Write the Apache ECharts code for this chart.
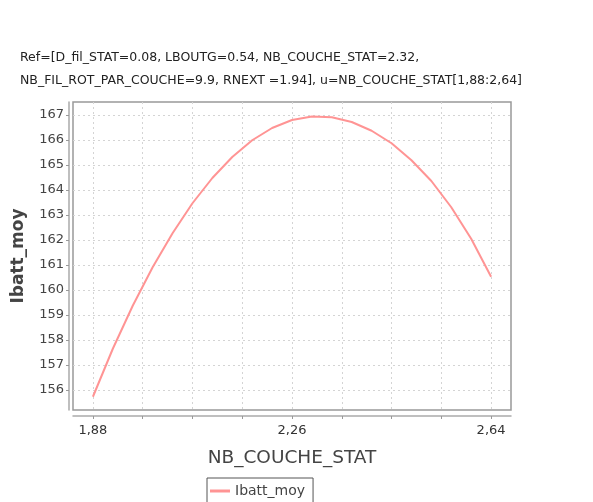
<!DOCTYPE html>
<html>
<head>
<meta charset="utf-8">
<script src="https://cdn.jsdelivr.net/npm/echarts@6/dist/echarts.min.js"></script>
<style>html,body{margin:0;padding:0;background:#fff}#c{width:593px;height:502px}</style>
</head>
<body>
<div id="c"></div>
<script>
const titleLines = [
  'Ref=[D_fil_STAT=0.08, LBOUTG=0.54, NB_COUCHE_STAT=2.32,',
  'NB_FIL_ROT_PAR_COUCHE=9.9, RNEXT =1.94], u=NB_COUCHE_STAT[1,88:2,64]'
];
const seriesName = 'Ibatt_moy';
const xName = 'NB_COUCHE_STAT';
const yName = 'Ibatt_moy';
const xValues = [1.88, 1.918, 1.956, 1.994, 2.032, 2.07, 2.108, 2.146, 2.184, 2.222, 2.26,
                 2.298, 2.336, 2.374, 2.412, 2.45, 2.488, 2.526, 2.564, 2.602, 2.64];
const yValues = [155.73, 157.65, 159.37, 160.91, 162.27, 163.47, 164.48, 165.32, 165.99, 166.48, 166.8,
                 166.94, 166.91, 166.72, 166.37, 165.87, 165.19, 164.36, 163.31, 162.05, 160.53];
const xTicks = [1.88, 1.975, 2.07, 2.165, 2.26, 2.355, 2.45, 2.545, 2.64];
const xTickLabels = [1.88, 2.26, 2.64];
const yTicks = [156, 157, 158, 159, 160, 161, 162, 163, 164, 165, 166, 167];

const chart = echarts.init(document.getElementById('c'), null, {renderer: 'canvas'});
const FONT = 'DejaVu Sans';
chart.setOption({
  animation: false,
  backgroundColor: '#fff',
  title: {
    text: titleLines.join('\n'),
    left: 15, top: 41,
    textStyle: {fontFamily: FONT, fontSize: 12.5, fontWeight: 'normal', color: '#222', lineHeight: 23}
  },
  legend: {
    data: [seriesName],
    left: 207, top: 478,
    borderColor: '#555', borderWidth: 1, borderRadius: 0,
    padding: [6, 8, 8, 3],
    itemWidth: 20, itemHeight: 3, icon: 'rect', itemGap: 4,
    textStyle: {fontFamily: FONT, fontSize: 14, color: '#444'}
  },
  grid: {
    left: 73, top: 102, right: 82, bottom: 92,
    show: true, borderColor: '#999', borderWidth: 1.5, backgroundColor: '#fff'
  },
  xAxis: {
    type: 'value', min: 1.842, max: 2.678,
    name: xName, nameLocation: 'middle', nameGap: 33,
    nameTextStyle: {fontFamily: FONT, fontSize: 18.5, color: '#444'},
    offset: 6,
    axisLine: {show: true, onZero: false, lineStyle: {color: '#aaa', width: 1.5}},
    axisTick: {show: true, length: 3, customValues: xTicks, lineStyle: {color: '#999'}},
    axisLabel: {customValues: xTickLabels, margin: 8, fontFamily: FONT, fontSize: 13, color: '#333',
      formatter: v => v.toFixed(2).replace('.', ',')},
    splitLine: {show: true, lineStyle: {color: '#d4d4d4', type: [2, 3], width: 1}}
  },
  yAxis: {
    type: 'value', min: 155.2, max: 167.52,
    name: yName, nameLocation: 'middle', nameGap: 42, nameRotate: 90,
    nameTextStyle: {fontFamily: FONT, fontSize: 17, color: '#444', fontWeight: 'bold'},
    offset: 4,
    axisLine: {show: true, onZero: false, lineStyle: {color: '#aaa', width: 1.5}},
    axisTick: {show: true, length: 3, customValues: yTicks, lineStyle: {color: '#999'}},
    axisLabel: {customValues: yTicks, margin: 5, fontFamily: FONT, fontSize: 13, color: '#444'},
    splitLine: {show: true, lineStyle: {color: '#d4d4d4', type: [2, 3], width: 1}}
  },
  series: [{
    name: seriesName, type: 'line',
    data: xValues.map((x, i) => [x, yValues[i]]),
    showSymbol: false, symbol: 'none',
    lineStyle: {color: '#ff9494', width: 2},
    itemStyle: {color: '#ff9494'}
  }]
});
</script>
</body>
</html>
